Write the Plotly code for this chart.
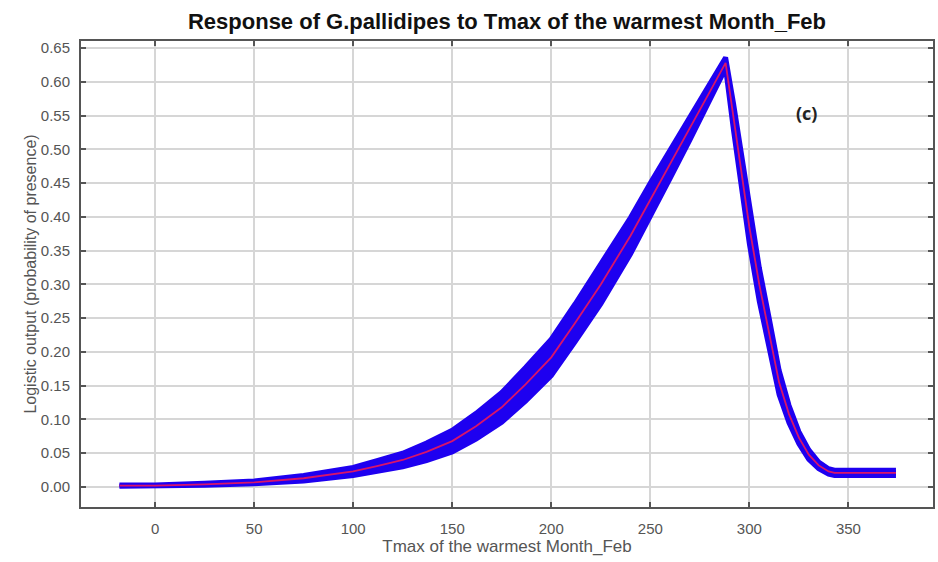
import plotly.graph_objects as go

# Response curve readings: predictor value, mean logistic output and its spread
tmax = [-18, 0, 25, 50, 75, 100, 112, 125, 137, 150, 162, 175, 187, 200, 212, 225,
        240, 250, 260, 270, 280, 288,
        292, 296, 300, 305, 310, 315, 320, 325, 330, 335, 340, 343, 374]
mean_prob = [0.002, 0.002, 0.004, 0.007, 0.013, 0.023, 0.031, 0.040, 0.052, 0.068,
             0.090, 0.118, 0.152, 0.192, 0.243, 0.300,
             0.372, 0.425, 0.478, 0.530, 0.585, 0.628,
             0.548, 0.467, 0.385, 0.300, 0.228, 0.155, 0.108, 0.073, 0.048, 0.032,
             0.023, 0.021, 0.021]
std_prob = [0.001, 0.001, 0.0015, 0.002, 0.004, 0.006, 0.008, 0.010, 0.013, 0.016,
            0.019, 0.022, 0.025, 0.027, 0.028, 0.029,
            0.027, 0.025, 0.021, 0.016, 0.011, 0.008,
            0.02, 0.025, 0.025, 0.025, 0.022, 0.018, 0.013, 0.009, 0.007, 0.005,
            0.004, 0.004, 0.004]

x_ticks = [0, 50, 100, 150, 200, 250, 300, 350]
y_ticks = [0.00, 0.05, 0.10, 0.15, 0.20, 0.25, 0.30, 0.35, 0.40, 0.45, 0.50, 0.55, 0.60, 0.65]

lower = [m - s for m, s in zip(mean_prob, std_prob)]
upper = [m + s for m, s in zip(mean_prob, std_prob)]

band_blue = "#1e00f0"
mean_red = "#d8146a"
font_family = "Liberation Sans, Arial, sans-serif"

fig = go.Figure()
fig.add_trace(go.Scatter(x=tmax, y=lower, mode="lines",
                         line=dict(color=band_blue, width=5), showlegend=False,
                         hoverinfo="skip"))
fig.add_trace(go.Scatter(x=tmax, y=upper, mode="lines", fill="tonexty",
                         fillcolor=band_blue,
                         line=dict(color=band_blue, width=5), showlegend=False,
                         hoverinfo="skip"))
fig.add_trace(go.Scatter(x=tmax, y=mean_prob, mode="lines",
                         line=dict(color=mean_red, width=1.8), showlegend=False))

axis_common = dict(
    showline=True, linecolor="#555555", linewidth=2, mirror="allticks",
    ticks="inside", ticklen=5, tickcolor="#555555", tickwidth=1.5,
    showgrid=True, gridcolor="#d6d6d6", gridwidth=1.5, zeroline=False,
    tickfont=dict(family=font_family, size=15, color="#555555"),
)

fig.update_xaxes(range=[-37.4, 392.7], tickvals=x_ticks,
                 ticktext=[str(v) for v in x_ticks],
                 title=dict(text="Tmax of the warmest Month_Feb", standoff=3,
                            font=dict(family=font_family, size=17, color="#555555")),
                 ticklabelstandoff=7, **axis_common)
fig.update_yaxes(range=[-0.0296, 0.6604], tickvals=y_ticks,
                 ticktext=[f"{v:.2f}" for v in y_ticks],
                 title=dict(text="Logistic output (probability of presence)", standoff=0,
                            font=dict(family=font_family, size=16, color="#555555")),
                 ticklabelstandoff=6, **axis_common)

fig.add_annotation(x=329, y=0.554, text="<b>(c)</b>", showarrow=False,
                   font=dict(family="Open Sans, sans-serif", size=18, color="#222222"))

fig.update_layout(
    width=938, height=562,
    margin=dict(l=81, r=3, t=41, b=55),
    paper_bgcolor="white", plot_bgcolor="white",
    title=dict(text="<b>Response of G.pallidipes to Tmax of the warmest Month_Feb</b>",
               x=0.5, xref="paper", xanchor="center",
               y=1 - 21 / 562, yref="container", yanchor="middle",
               font=dict(family=font_family, size=22, color="#111111")),
)

fig.write_html("out.html")
